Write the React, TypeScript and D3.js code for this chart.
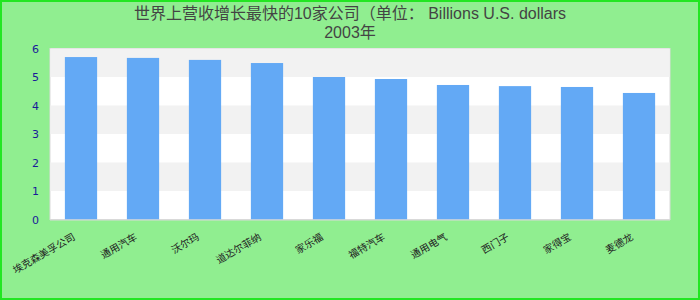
import React from "react";
import * as d3 from "d3";

const categories = ["埃克森美孚公司", "通用汽车", "沃尔玛", "道达尔菲纳", "家乐福", "福特汽车", "通用电气", "西门子", "家得宝", "麦德龙"];
const values = [5.7, 5.67, 5.6, 5.49, 5.0, 4.93, 4.72, 4.68, 4.65, 4.44];
const yTicks = [0, 1, 2, 3, 4, 5, 6];
const titleLine1 = "世界上营收增长最快的10家公司（单位： Billions U.S. dollars";
const titleLine2 = "2003年";

const W = 700;
const H = 300;
const plot = { left: 50, right: 670, top: 48.5, bottom: 219.5 };

export default function App() {
  const x = d3.scaleBand<string>().domain(categories).range([plot.left, plot.right]).paddingInner(0.48).paddingOuter(0.24);
  const y = d3.scaleLinear().domain([0, 6]).range([plot.bottom, plot.top]);
  const bands = d3.range(0, 6);
  return (
    <div style={{ position: "fixed", left: 0, top: 0 }}>
      <svg width={W} height={H} style={{ display: "block" }}>
        <rect x={1} y={1} width={W - 2} height={H - 2} fill="#90ee90" stroke="#22e622" strokeWidth={2} />
        <text x={350} y={19} textAnchor="middle" fontFamily="'Liberation Sans', Arial, 'Noto Sans CJK SC', sans-serif" fontSize={16} fill="#444">
          {titleLine1}
        </text>
        <text x={350} y={38} textAnchor="middle" fontFamily="'Liberation Sans', Arial, 'Noto Sans CJK SC', sans-serif" fontSize={16} fill="#444">
          {titleLine2}
        </text>
        <rect x={plot.left} y={plot.top} width={plot.right - plot.left} height={plot.bottom - plot.top} fill="#fff" stroke="#d9d9d9" strokeWidth={1} />
        {bands.map((b) =>
          b % 2 === 1 ? (
            <rect key={b} x={plot.left + 0.5} y={y(b + 1)} width={plot.right - plot.left - 1} height={y(b) - y(b + 1)} fill="#f2f2f2" />
          ) : null
        )}
        {categories.map((c, i) => (
          <rect key={c} x={x(c)} y={y(values[i])} width={x.bandwidth()} height={y(0) - y(values[i])} fill="#63a9f5" />
        ))}
        <line x1={plot.left} x2={plot.right} y1={plot.bottom + 0.5} y2={plot.bottom + 0.5} stroke="#d9d9d9" />
        {yTicks.map((t) => (
          <text key={t} x={39} y={y(t) + 4} textAnchor="end" fontFamily="'DejaVu Sans', sans-serif" fontSize={11} fill="#1a1a99">
            {t}
          </text>
        ))}
        {categories.map((c) => {
          const cx = (x(c) as number) + x.bandwidth() / 2;
          return (
            <text
              key={c}
              transform={`translate(${cx - 5},${239}) rotate(-30)`}
              textAnchor="end"
              fontFamily="'Noto Sans CJK SC', sans-serif"
              fontSize={10}
              fill="#222"
            >
              {c}
            </text>
          );
        })}
      </svg>
    </div>
  );
}
